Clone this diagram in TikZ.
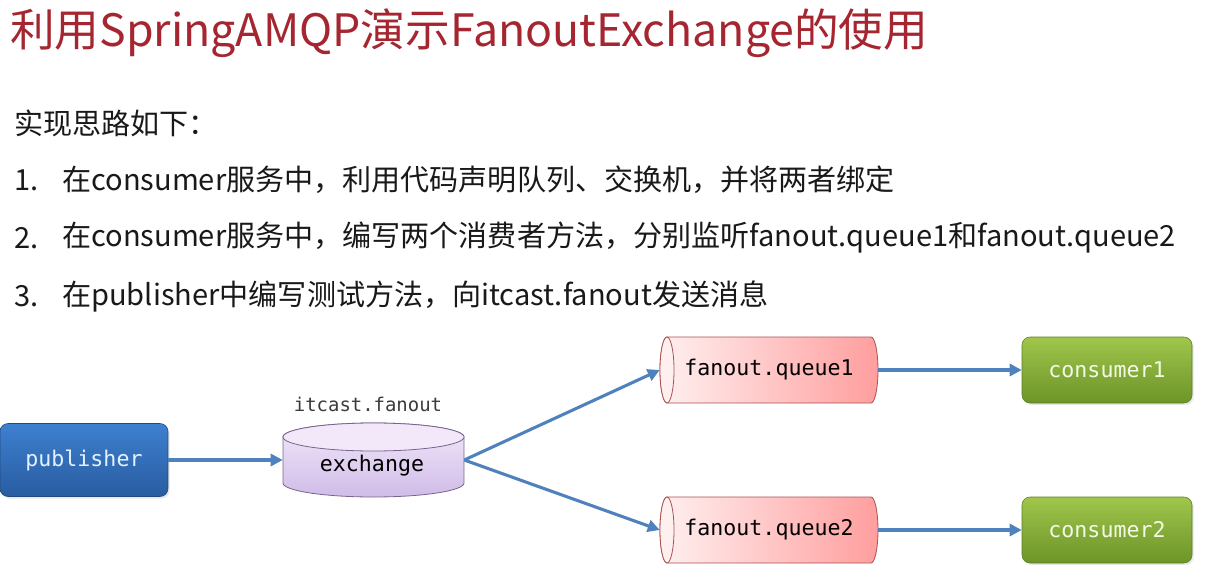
\documentclass[tikz,border=0pt]{standalone}
\usepackage{fontspec}
\setmainfont{Noto Sans CJK SC}
\newfontfamily\codefont{DejaVu Sans Mono}
\usetikzlibrary{arrows.meta,shadows}
\definecolor{titlered}{RGB}{165,38,48}
\definecolor{bodytext}{RGB}{25,25,25}
\definecolor{pubTop}{RGB}{62,128,208}
\definecolor{pubBot}{RGB}{40,92,160}
\definecolor{conTop}{RGB}{160,198,76}
\definecolor{conBot}{RGB}{108,148,40}
\definecolor{qLeft}{RGB}{255,240,240}
\definecolor{qRight}{RGB}{255,158,158}
\definecolor{qLine}{RGB}{170,80,80}
\definecolor{exTop}{RGB}{242,232,250}
\definecolor{exBot}{RGB}{208,188,232}
\definecolor{exLine}{RGB}{120,100,140}
\definecolor{flowblue}{RGB}{79,129,189}
\tikzset{
  bodyline/.style={anchor=west, inner sep=0pt, text=bodytext, font=\fontsize{21.8}{26}\selectfont},
  codetxt/.style={font=\codefont\fontsize{16.2}{19}\selectfont},
  pubbox/.style={codetxt, rounded corners=6pt, top color=pubTop, bottom color=pubBot, draw=pubBot!80!black, line width=0.4pt,
    text={rgb,255:red,228;green,242;blue,255}, minimum width=126pt, minimum height=54.75pt,
    drop shadow={opacity=0.18, shadow xshift=1.2pt, shadow yshift=-1.5pt}},
  conbox/.style={codetxt, rounded corners=6pt, top color=conTop, bottom color=conBot, draw=conBot!85!black, line width=0.4pt,
    text={rgb,255:red,242;green,250;blue,228}, minimum width=127.5pt, minimum height=49.5pt,
    drop shadow={opacity=0.18, shadow xshift=1.2pt, shadow yshift=-1.5pt}},
  carrier/.style={codetxt, inner sep=0pt, text=black},
  flow/.style={draw=flowblue, line width=2.3pt, -{Triangle[length=9pt,width=9pt]}},
}
\begin{document}
\begin{tikzpicture}[x=0.75pt,y=-0.75pt]
\useasboundingbox (0,0) rectangle (1229,575);
\fill[white] (0,0) rectangle (1229,575);

% heading and text
\node[anchor=west, inner sep=0pt, text=titlered, font=\fontsize{33.5}{38}\selectfont] (title) at (10,33) {利用SpringAMQP演示FanoutExchange的使用};
\node[bodyline] (intro) at (14,123) {实现思路如下：};
\node[bodyline] (n1) at (14,180) {1.};
\node[bodyline] (s1) at (62,180) {在consumer服务中，利用代码声明队列、交换机，并将两者绑定};
\node[bodyline] (n2) at (14,238) {2.};
\node[bodyline] (s2) at (62,238) {在consumer服务中，编写两个消费者方法，分别监听fanout.queue1和fanout.queue2};
\node[bodyline] (n3) at (14,296) {3.};
\node[bodyline] (s3) at (62,296) {在publisher中编写测试方法，向itcast.fanout发送消息};

% exchange cylinder
\path[top color=exTop, bottom color=exBot, draw=exLine, line width=0.6pt]
  (283,437) -- (283,483) arc[start angle=180,end angle=360,x radius=67.875pt,y radius=10.5pt]
  -- (464,437) arc[start angle=0,end angle=180,x radius=67.875pt,y radius=10.5pt] -- cycle;
\draw[exLine, line width=0.6pt, fill=exTop] (373.5,437) ellipse[x radius=67.875pt, y radius=10.5pt];

% queue cylinders
\foreach \yy in {370,530}{
  \path[left color=qLeft, right color=qRight, draw=qLine, line width=0.6pt]
    (667,\yy-33) -- (871,\yy-33) arc[start angle=90,end angle=-90,x radius=5.25pt,y radius=24.75pt]
    -- (667,\yy+33) arc[start angle=270,end angle=90,x radius=5.25pt,y radius=24.75pt] -- cycle;
  \draw[qLine, line width=0.6pt, fill=qLeft] (667,\yy) ellipse[x radius=5.25pt, y radius=24.75pt];
}

% nodes
\node[pubbox] (pub) at (84,460) {publisher};
\node[carrier, minimum width=135.75pt, minimum height=55.5pt] (exch) at (373.5,460) {};
\node[carrier] (exchtxt) at (372,466) {exchange};
\node[codetxt, text={rgb,255:red,60;green,60;blue,60}, font=\codefont\fontsize{14.2}{17}\selectfont] (exname) at (368,404) {itcast.fanout};
\node[carrier, minimum width=163.5pt, minimum height=49.5pt] (q1) at (769,370) {fanout.queue1};
\node[carrier, minimum width=163.5pt, minimum height=49.5pt] (q2) at (769,530) {fanout.queue2};
\node[conbox] (c1) at (1107,370) {consumer1};
\node[conbox] (c2) at (1107,530) {consumer2};

% connectors
\draw[flow] (pub.east) -- (exch.west);
\draw[flow] (exch.east) -- (q1.west);
\draw[flow] (exch.east) -- (q2.west);
\draw[flow] (q1.east) -- (c1.west);
\draw[flow] (q2.east) -- (c2.west);
\end{tikzpicture}
\end{document}
